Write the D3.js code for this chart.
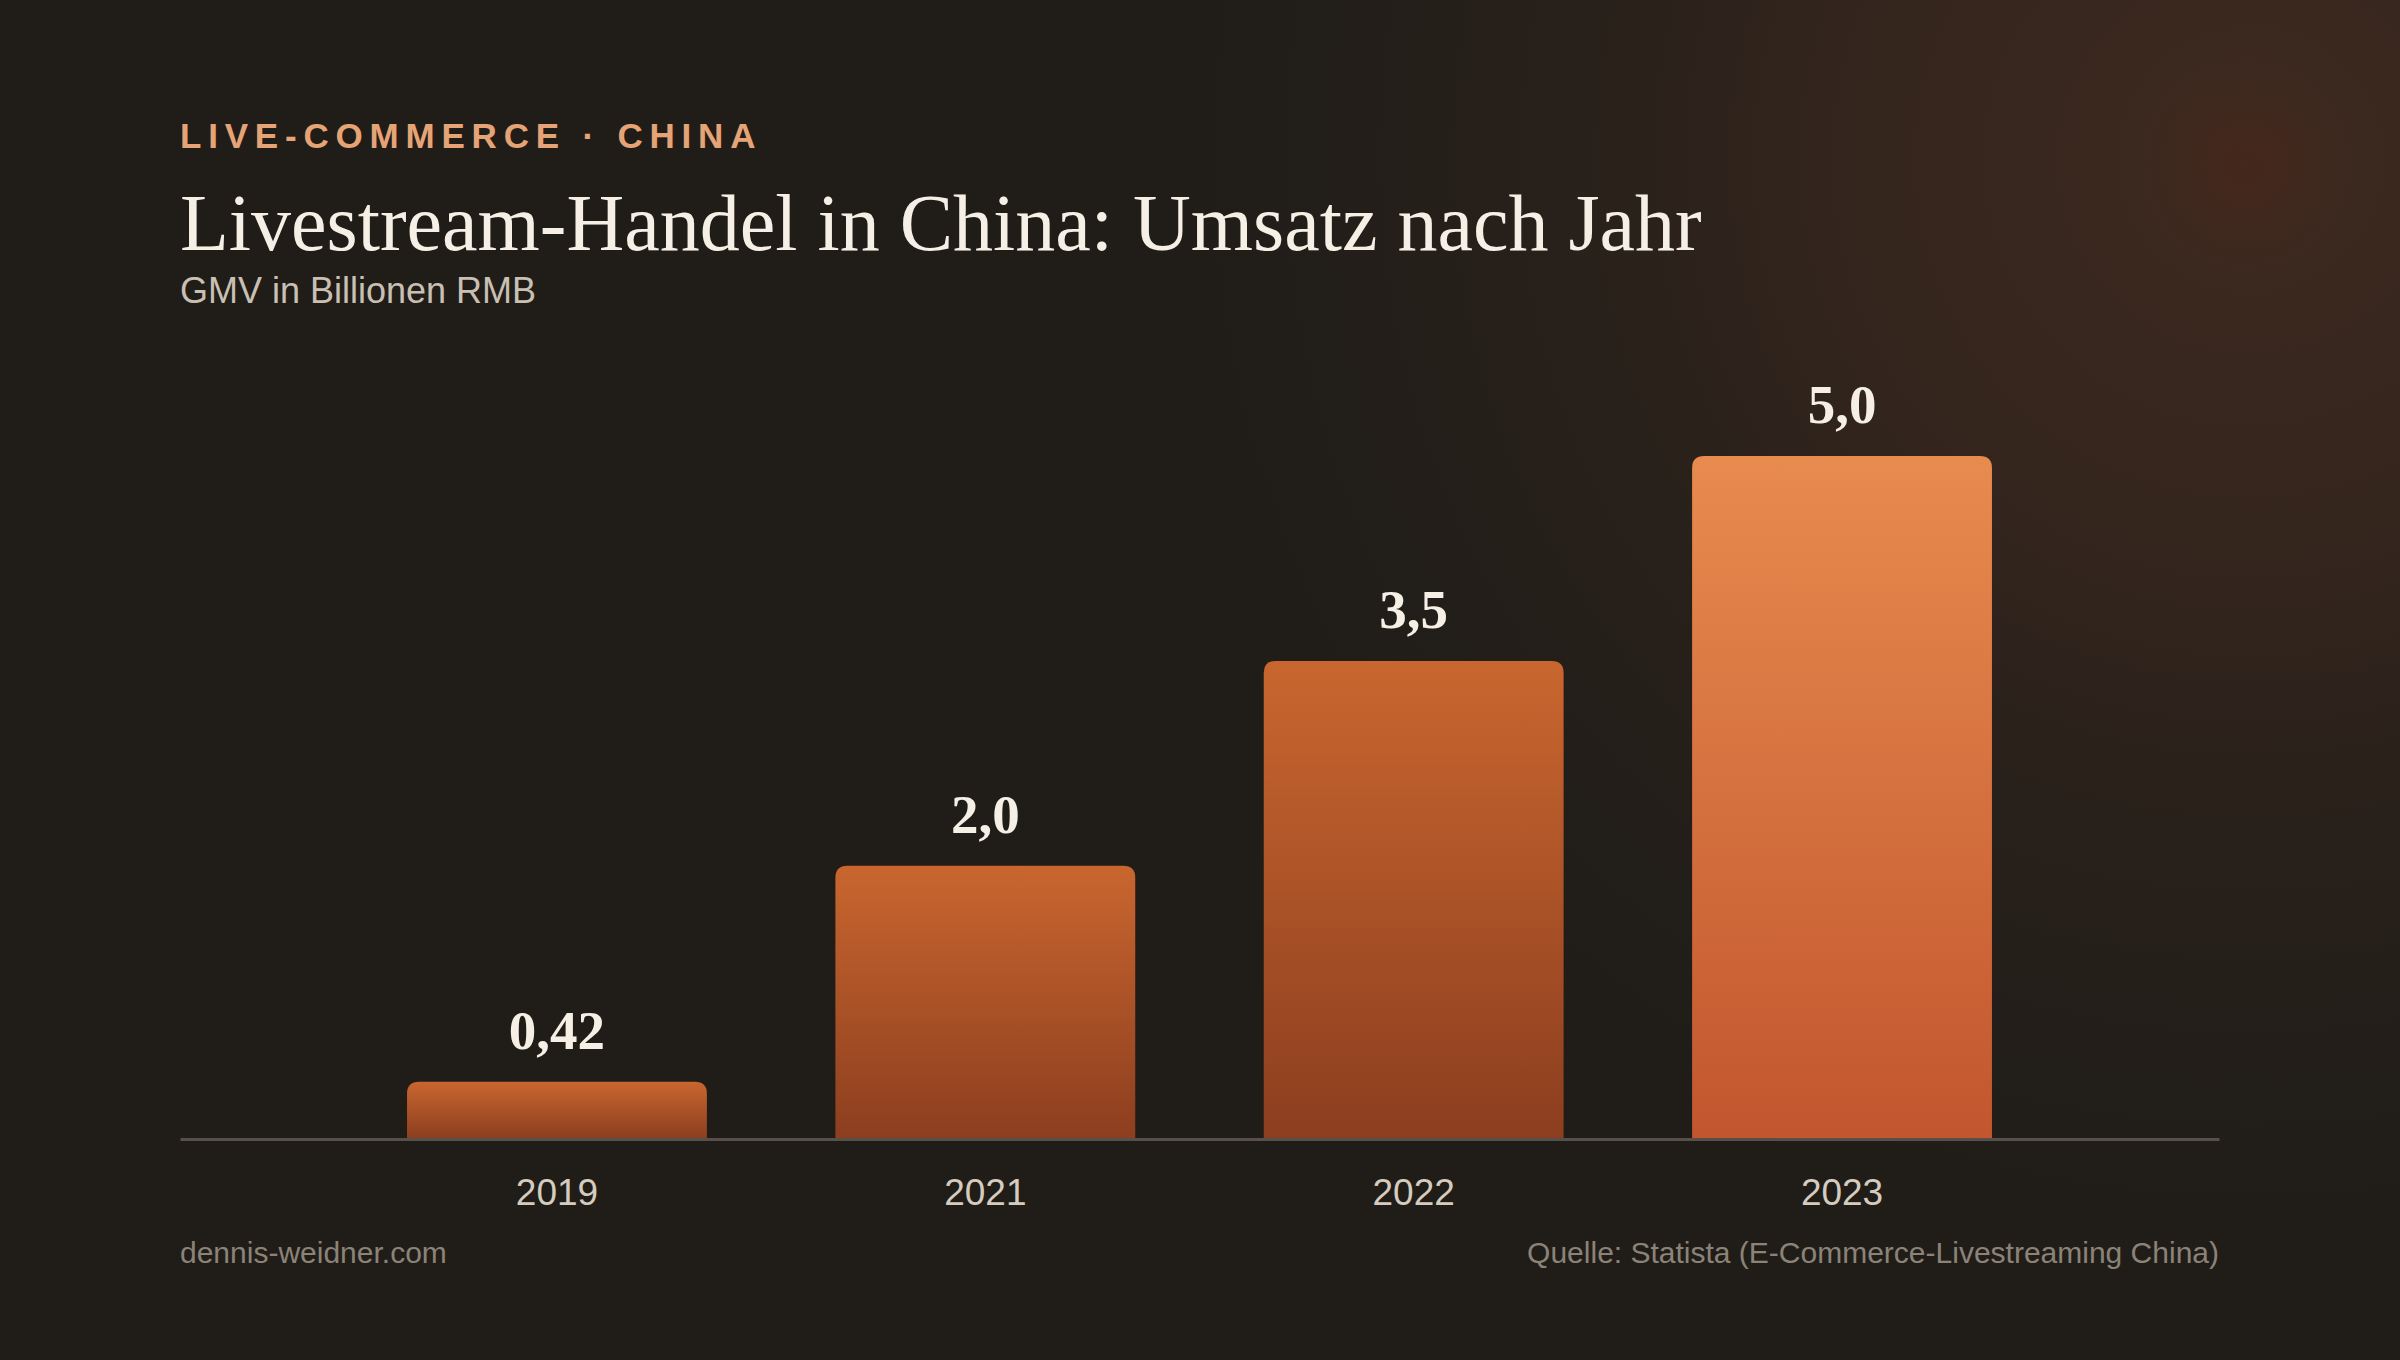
<!DOCTYPE html>
<html>
<head>
<meta charset="utf-8">
<script src="https://cdn.jsdelivr.net/npm/d3@7"></script>
<style>
html,body{margin:0;padding:0;background:#201d18;}
svg{display:block;}
</style>
</head>
<body>
<svg id="chart" width="2400" height="1360"></svg>
<script>
const years = ["2019", "2021", "2022", "2023"];
const gmv = [0.42, 2.0, 3.5, 5.0];
const valueLabels = ["0,42", "2,0", "3,5", "5,0"];
const highlight = [false, false, false, true];

const W = 2400, H = 1360;
const svg = d3.select("#chart");
const defs = svg.append("defs");

// background
svg.append("rect").attr("width", W).attr("height", H).attr("fill", "#201d18");
const glow = defs.append("radialGradient").attr("id", "glow")
  .attr("gradientUnits", "userSpaceOnUse").attr("cx", 2250).attr("cy", 160).attr("r", 1150);
glow.append("stop").attr("offset", 0).attr("stop-color", "#3e2a20").attr("stop-opacity", 1);
glow.append("stop").attr("offset", 0.35).attr("stop-color", "#36261e").attr("stop-opacity", 0.9);
glow.append("stop").attr("offset", 0.7).attr("stop-color", "#2a211b").attr("stop-opacity", 0.5);
glow.append("stop").attr("offset", 1).attr("stop-color", "#201d18").attr("stop-opacity", 0);
svg.append("rect").attr("width", W).attr("height", H).attr("fill", "url(#glow)");
const spot = defs.append("radialGradient").attr("id", "spot")
  .attr("gradientUnits", "userSpaceOnUse").attr("cx", 2245).attr("cy", 165).attr("r", 110);
spot.append("stop").attr("offset", 0).attr("stop-color", "#4a2418").attr("stop-opacity", 0.55);
spot.append("stop").attr("offset", 1).attr("stop-color", "#4a2418").attr("stop-opacity", 0);
svg.append("rect").attr("width", W).attr("height", H).attr("fill", "url(#spot)");

// gradients for bars
const gNorm = defs.append("linearGradient").attr("id", "barNorm").attr("x1", 0).attr("y1", 0).attr("x2", 0).attr("y2", 1);
gNorm.append("stop").attr("offset", 0).attr("stop-color", "#c9662f");
gNorm.append("stop").attr("offset", 1).attr("stop-color", "#8c3e1f");
const gHi = defs.append("linearGradient").attr("id", "barHi").attr("x1", 0).attr("y1", 0).attr("x2", 0).attr("y2", 1);
gHi.append("stop").attr("offset", 0).attr("stop-color", "#e88b4f");
gHi.append("stop").attr("offset", 1).attr("stop-color", "#c2562e");

// header texts
svg.append("text").attr("x", 180).attr("y", 148)
  .attr("font-family", "Liberation Sans, Arial, sans-serif").attr("font-weight", 700)
  .attr("font-size", 35).attr("letter-spacing", 6.8).attr("fill", "#e6a476")
  .text("LIVE-COMMERCE · CHINA");
svg.append("text").attr("x", 180).attr("y", 250)
  .attr("font-family", "Liberation Serif, 'Times New Roman', serif")
  .attr("font-size", 80).attr("fill", "#f5efe6")
  .text("Livestream-Handel in China: Umsatz nach Jahr");
svg.append("text").attr("x", 180).attr("y", 303)
  .attr("font-family", "Liberation Sans, Arial, sans-serif")
  .attr("font-size", 36).attr("fill", "#c9c0b3")
  .text("GMV in Billionen RMB");

// scales
const x = d3.scaleBand().domain(years).range([180, 2219]).paddingInner(0.3).paddingOuter(0.53);
const y = d3.scaleLinear().domain([0, 5]).range([1139, 456]);

const data = years.map((yr, i) => ({ yr, v: gmv[i], lab: valueLabels[i], hi: highlight[i] }));

const r = 12;
function topRounded(x0, y0, w, h) {
  const rr = Math.min(r, h, w / 2);
  return `M${x0},${y0 + h}V${y0 + rr}Q${x0},${y0} ${x0 + rr},${y0}H${x0 + w - rr}Q${x0 + w},${y0} ${x0 + w},${y0 + rr}V${y0 + h}Z`;
}

svg.append("g").selectAll("path").data(data).join("path")
  .attr("d", d => topRounded(x(d.yr), y(d.v), x.bandwidth(), y(0) - y(d.v)))
  .attr("fill", d => d.hi ? "url(#barHi)" : "url(#barNorm)");

// axis
const axis = svg.append("g").attr("transform", `translate(0,${y(0)})`)
  .call(d3.axisBottom(x).tickSize(0).tickPadding(0));
axis.select(".domain").attr("stroke", "#57504a").attr("stroke-width", 3);
axis.selectAll(".tick text")
  .attr("y", 66).attr("dy", 0)
  .attr("font-family", "Liberation Sans, Arial, sans-serif")
  .attr("font-size", 37).attr("fill", "#d5ccbf");

// value labels
svg.append("g").selectAll("text").data(data).join("text")
  .attr("x", d => x(d.yr) + x.bandwidth() / 2)
  .attr("y", d => y(d.v) - 33)
  .attr("text-anchor", "middle")
  .attr("font-family", "Liberation Serif, 'Times New Roman', serif")
  .attr("font-size", 55).attr("font-weight", 700).attr("fill", "#f5efe6")
  .text(d => d.lab);

// footer
svg.append("text").attr("x", 180).attr("y", 1263)
  .attr("font-family", "Liberation Sans, Arial, sans-serif")
  .attr("font-size", 30).attr("fill", "#8c8378")
  .text("dennis-weidner.com");
svg.append("text").attr("x", 2219).attr("y", 1263).attr("text-anchor", "end")
  .attr("font-family", "Liberation Sans, Arial, sans-serif")
  .attr("font-size", 30).attr("fill", "#8c8378")
  .text("Quelle: Statista (E-Commerce-Livestreaming China)");
</script>
</body>
</html>
